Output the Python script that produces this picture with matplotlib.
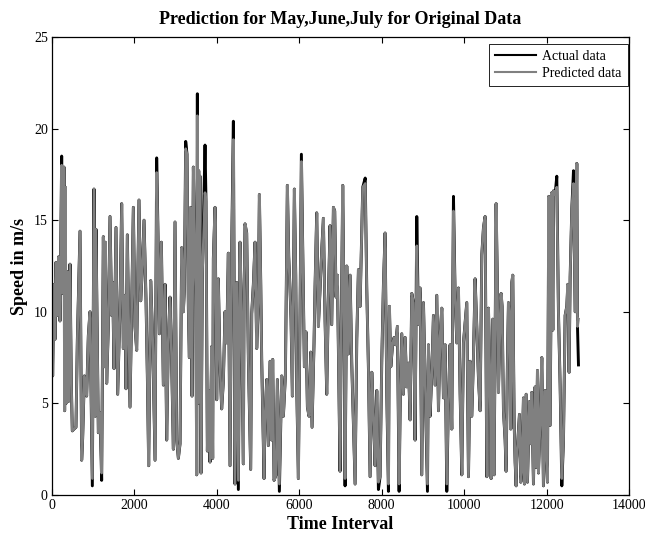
import matplotlib
matplotlib.use('Agg')
import matplotlib.pyplot as plt
import numpy as np

plt.rcParams['font.family'] = ['Liberation Serif', 'DejaVu Serif']

# time index and actual wind speed at the turning points
time_idx = [
    0, 16, 49, 73, 97, 129, 162, 194, 235, 259, 291, 307, 324, 340, 372, 396, 437, 469, 493, 534,
    582, 615, 680, 720, 744, 785, 841, 882, 922, 979, 1019, 1052, 1068, 1125, 1165, 1205, 1246, 1278, 1294, 1327,
    1367, 1408, 1448, 1472, 1505, 1553, 1594, 1650, 1691, 1731, 1772, 1796, 1828, 1893, 1934, 1974, 2014, 2055, 2111, 2152,
    2192, 2233, 2281, 2314, 2346, 2395, 2443, 2500, 2540, 2573, 2605, 2654, 2702, 2743, 2783, 2823, 2864, 2904, 2945, 2985,
    3026, 3066, 3107, 3147, 3187, 3212, 3244, 3276, 3309, 3333, 3365, 3398, 3430, 3470, 3490, 3511, 3527, 3543, 3560, 3576,
    3592, 3616, 3648, 3713, 3737, 3770, 3794, 3834, 3875, 3899, 3915, 3956, 3996, 4036, 4077, 4117, 4158, 4198, 4239, 4279,
    4320, 4360, 4401, 4441, 4482, 4522, 4562, 4603, 4643, 4660, 4684, 4724, 4765, 4821, 4846, 4886, 4927, 4967, 5007, 5032,
    5064, 5088, 5145, 5169, 5210, 5250, 5291, 5331, 5355, 5388, 5436, 5469, 5517, 5574, 5614, 5663, 5711, 5744, 5776, 5800,
    5833, 5881, 5914, 5938, 5978, 6019, 6051, 6083, 6124, 6164, 6197, 6237, 6278, 6310, 6358, 6383, 6423, 6464, 6504, 6545,
    6585, 6626, 6666, 6706, 6747, 6787, 6828, 6860, 6892, 6925, 6989, 7014, 7054, 7087, 7111, 7152, 7192, 7233, 7273, 7354,
    7395, 7435, 7476, 7492, 7540, 7600, 7637, 7678, 7718, 7759, 7799, 7840, 7880, 7920, 7961, 8001, 8042, 8082, 8123, 8163,
    8187, 8220, 8268, 8301, 8333, 8381, 8422, 8446, 8487, 8527, 8568, 8608, 8648, 8689, 8729, 8770, 8810, 8851, 8891, 8932,
    8972, 9013, 9110, 9134, 9174, 9215, 9255, 9296, 9336, 9377, 9417, 9458, 9498, 9539, 9579, 9619, 9660, 9700, 9741, 9781,
    9822, 9862, 9902, 9943, 9983, 10024, 10064, 10105, 10145, 10186, 10226, 10266, 10307, 10347, 10388, 10428, 10469, 10509, 10550, 10590,
    10630, 10655, 10695, 10727, 10776, 10808, 10832, 10873, 10897, 10921, 10954, 10994, 11018, 11051, 11075, 11115, 11132, 11156, 11180, 11213,
    11237, 11261, 11277, 11318, 11342, 11374, 11399, 11439, 11463, 11504, 11536, 11585, 11617, 11641, 11682, 11722, 11746, 11779, 11803, 11844,
    11884, 11924, 11965, 11989, 12021, 12054, 12086, 12127, 12151, 12167, 12207, 12248, 12288, 12329, 12370, 12410, 12450, 12491, 12515, 12547,
    12572, 12612, 12653, 12693, 12733, 12750, 12774,
]

actual = [
    10.5, 6.5, 11.5, 8.5, 12.7, 9.8, 13.0, 9.5, 18.5, 11.0, 17.9, 4.6, 16.8, 5.0, 12.2, 5.1, 12.6, 6.1, 3.5, 3.6,
    3.7, 8.4, 14.4, 1.9, 3.1, 6.5, 5.4, 8.7, 10.0, 0.5, 16.7, 4.3, 14.5, 3.4, 4.5, 0.8, 14.1, 7.0, 13.8, 6.1,
    9.2, 15.2, 9.8, 11.6, 6.9, 14.6, 5.5, 10.2, 15.9, 8.0, 10.9, 5.8, 14.2, 4.8, 10.5, 15.7, 9.2, 7.9, 16.1, 10.6,
    12.3, 15.0, 10.7, 6.5, 1.6, 11.7, 8.5, 1.9, 18.4, 14.1, 8.8, 13.8, 6.0, 11.5, 3.0, 8.5, 10.8, 7.2, 2.5, 14.9,
    3.0, 2.0, 2.8, 13.5, 10.0, 11.2, 19.3, 18.6, 10.2, 7.5, 15.7, 5.4, 17.9, 12.6, 10.9, 1.1, 21.9, 5.0, 17.7, 12.0,
    17.4, 1.2, 12.0, 19.1, 16.0, 2.4, 5.7, 1.8, 8.1, 2.0, 12.9, 15.7, 5.2, 11.8, 7.0, 4.7, 6.2, 10.0, 8.3, 13.2,
    1.6, 13.4, 20.4, 0.6, 11.6, 0.3, 13.8, 9.0, 1.7, 10.8, 14.8, 14.3, 7.4, 1.4, 9.9, 11.5, 13.8, 8.0, 10.5, 16.4,
    11.7, 7.4, 0.9, 4.2, 6.3, 2.7, 7.3, 3.0, 7.4, 0.8, 1.1, 6.3, 0.2, 6.5, 4.3, 6.5, 16.9, 13.0, 11.2, 9.6,
    5.4, 16.7, 12.0, 6.0, 0.9, 10.0, 18.6, 13.5, 7.0, 8.9, 4.8, 4.3, 7.8, 3.7, 8.3, 11.4, 15.4, 9.2, 11.2, 13.4,
    15.1, 9.5, 5.5, 10.8, 14.7, 9.3, 15.7, 15.5, 10.8, 12.0, 1.3, 8.0, 16.9, 10.0, 0.5, 12.5, 7.7, 12.0, 7.2, 0.6,
    8.5, 12.3, 10.3, 12.0, 16.8, 17.3, 11.3, 6.9, 1.0, 6.7, 4.4, 1.6, 5.7, 0.3, 1.0, 7.3, 11.5, 14.3, 5.6, 0.2,
    10.3, 7.0, 8.3, 8.6, 8.2, 9.2, 0.2, 4.5, 8.8, 5.5, 8.6, 5.9, 7.2, 4.1, 11.0, 10.5, 3.0, 15.2, 9.3, 11.3,
    1.1, 10.5, 0.2, 8.2, 4.3, 6.6, 9.8, 6.0, 10.9, 4.6, 8.7, 10.2, 5.3, 8.2, 0.2, 5.2, 8.2, 3.6, 16.3, 10.9,
    8.3, 11.3, 5.6, 1.1, 8.3, 9.4, 10.5, 1.0, 7.3, 4.3, 7.5, 11.8, 9.2, 6.4, 4.6, 13.1, 14.6, 15.2, 1.0, 10.2,
    6.0, 0.9, 9.6, 1.1, 15.9, 11.3, 5.6, 9.6, 11.0, 10.3, 4.6, 3.0, 1.3, 7.3, 10.5, 9.0, 3.6, 11.6, 12.0, 4.0,
    1.8, 0.5, 2.0, 3.5, 4.4, 0.7, 1.3, 5.3, 0.6, 5.5, 0.7, 5.1, 2.8, 5.6, 0.6, 5.9, 1.5, 6.8, 1.2, 4.0,
    7.5, 0.5, 5.7, 2.4, 0.7, 16.3, 3.8, 16.5, 9.0, 16.6, 16.4, 17.4, 10.0, 6.0, 0.5, 3.0, 9.8, 10.3, 11.5, 6.7,
    11.9, 15.6, 17.7, 10.0, 18.1, 9.2, 7.1,
]

# points where the predicted curve visibly departs from the actual one (black tips)
pred_override_t = [235, 979, 1205, 2540, 3244, 3527, 3713, 4401, 4522, 5517, 6051, 7111, 7600, 7920, 8163,
                   8422, 8851, 9110, 9579, 9741, 12248, 12370, 12653, 12774]
pred_override_v = [18.0, 0.9, 1.2, 17.6, 18.9, 20.7, 16.5, 19.4, 0.8, 0.6, 18.2, 0.9, 17.0, 0.7, 0.6,
                   0.6, 13.6, 0.6, 0.6, 15.5, 16.8, 0.9, 17.0, 9.6]

predicted = list(actual)
for t, v in zip(pred_override_t, pred_override_v):
    predicted[time_idx.index(t)] = v

fig = plt.figure(figsize=(6.45, 5.39), dpi=100)
ax = fig.add_axes([0.0806, 0.0816, 0.8946, 0.8498])

ax.plot(time_idx, actual, color='black', linewidth=2.1, label='Actual data')
ax.plot(time_idx, predicted, color='#808080', linewidth=1.9, label='Predicted data')

ax.set_xlim(0, 14000)
ax.set_ylim(0, 25)
ax.set_xticks(np.arange(0, 14001, 2000))
ax.set_yticks(np.arange(0, 26, 5))
ax.tick_params(direction='in', top=True, right=True, length=4, labelsize=10, width=0.8, pad=3)
for s in ax.spines.values():
    s.set_linewidth(0.9)

ax.set_title('Prediction for May,June,July for Original Data', fontsize=13, fontweight='bold', pad=9)
ax.set_xlabel('Time Interval', fontsize=13, fontweight='bold', labelpad=3)
ax.set_ylabel('Speed in m/s', fontsize=13, fontweight='bold', labelpad=4)

leg = ax.legend(loc='upper right', bbox_to_anchor=(1.0, 0.988), borderaxespad=0.1, fontsize=10,
                fancybox=False, edgecolor='black', handlelength=3.0, framealpha=1,
                borderpad=0.45, labelspacing=0.25, handletextpad=0.4)
leg.get_frame().set_linewidth(0.6)
for line in leg.get_lines():
    line.set_linewidth(1.5)

fig.savefig('out.png', dpi=100)
